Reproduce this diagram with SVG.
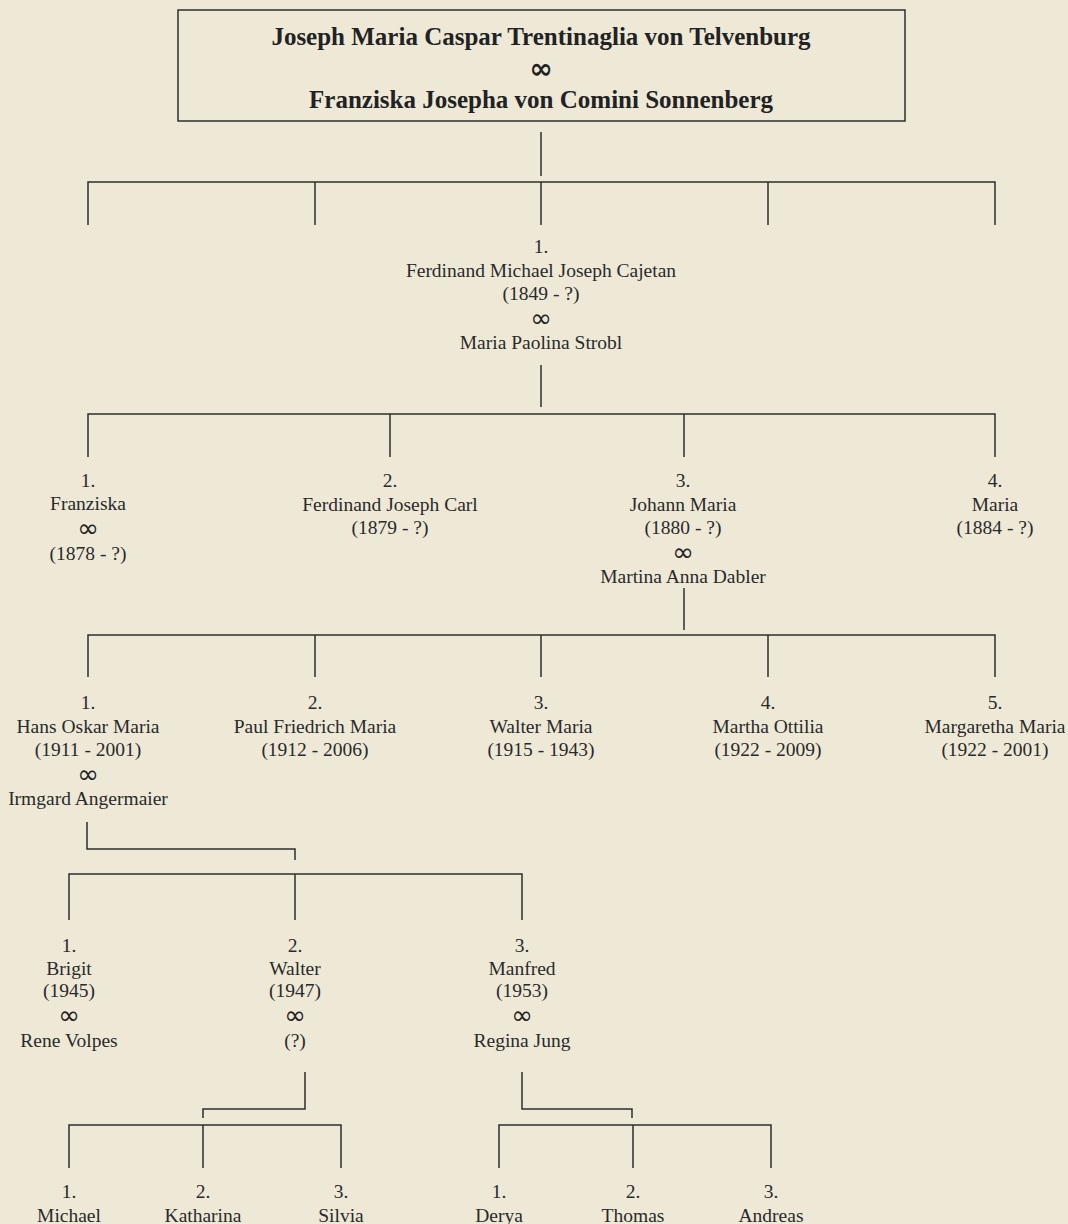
<svg xmlns="http://www.w3.org/2000/svg" width="1068" height="1224" viewBox="0 0 1068 1224">
<style>
  .t { font-family: "Liberation Serif", "Times New Roman", serif; font-size: 19.5px; fill: #2a2a2a; text-anchor: middle; }
  .b { font-family: "Liberation Serif", "Times New Roman", serif; font-size: 25px; font-weight: bold; fill: #222; text-anchor: middle; }
  .inf { font-family: "DejaVu Sans", sans-serif; font-size: 26px; fill: #222; text-anchor: middle; }
  .infb { font-family: "DejaVu Sans", sans-serif; font-size: 28px; font-weight: bold; fill: #222; text-anchor: middle; }
  .ln { fill: none; stroke: #2e2e2e; stroke-width: 1.5; }
</style>
<rect x="0" y="0" width="1068" height="1224" fill="#EEE9D7"/>

<g id="connectors" class="ln">
  <path d="M541 132V176"/>
  <path d="M88 225V182H995V225M315 182V225M541 182V225M768 182V225"/>
  <path d="M541 365V407"/>
  <path d="M88 457V414H995V457M390 414V457M684 414V457"/>
  <path d="M684 588V630"/>
  <path d="M88 677V635H995V677M315 635V677M541 635V677M768 635V677"/>
  <path d="M87 822V849H295V860"/>
  <path d="M69 920V874H522V920M295 874V920"/>
  <path d="M305 1072V1109H203V1118"/>
  <path d="M69 1168V1125H341V1168M203 1125V1168"/>
  <path d="M522 1072V1109H632V1118"/>
  <path d="M499 1168V1125H771V1168M633 1125V1168"/>
</g>

<g id="root">
  <rect x="178" y="10" width="727" height="111" fill="none" stroke="#2e2e2e" stroke-width="1.5"/>
  <text class="b" x="541" y="45">Joseph Maria Caspar Trentinaglia von Telvenburg</text>
  <text class="infb" x="541" y="78">∞</text>
  <text class="b" x="541" y="108">Franziska Josepha von Comini Sonnenberg</text>
</g>

<g id="n-ferdinand">
  <text class="t" x="541" y="253">1.</text>
  <text class="t" x="541" y="277">Ferdinand Michael Joseph Cajetan</text>
  <text class="t" x="541" y="300">(1849 - ?)</text>
  <text class="inf" x="541" y="327">∞</text>
  <text class="t" x="541" y="349">Maria Paolina Strobl</text>
</g>

<g id="n-franziska">
  <text class="t" x="88" y="487">1.</text>
  <text class="t" x="88" y="510">Franziska</text>
  <text class="inf" x="88" y="537">∞</text>
  <text class="t" x="88" y="560">(1878 - ?)</text>
</g>
<g id="n-ferdinand-joseph-carl">
  <text class="t" x="390" y="487">2.</text>
  <text class="t" x="390" y="511">Ferdinand Joseph Carl</text>
  <text class="t" x="390" y="534">(1879 - ?)</text>
</g>
<g id="n-johann">
  <text class="t" x="683" y="487">3.</text>
  <text class="t" x="683" y="511">Johann Maria</text>
  <text class="t" x="683" y="534">(1880 - ?)</text>
  <text class="inf" x="683" y="561">∞</text>
  <text class="t" x="683" y="583">Martina Anna Dabler</text>
</g>
<g id="n-maria">
  <text class="t" x="995" y="487">4.</text>
  <text class="t" x="995" y="511">Maria</text>
  <text class="t" x="995" y="534">(1884 - ?)</text>
</g>

<g id="n-hans">
  <text class="t" x="88" y="709">1.</text>
  <text class="t" x="88" y="733">Hans Oskar Maria</text>
  <text class="t" x="88" y="756">(1911 - 2001)</text>
  <text class="inf" x="88" y="783">∞</text>
  <text class="t" x="88" y="805">Irmgard Angermaier</text>
</g>
<g id="n-paul">
  <text class="t" x="315" y="709">2.</text>
  <text class="t" x="315" y="733">Paul Friedrich Maria</text>
  <text class="t" x="315" y="756">(1912 - 2006)</text>
</g>
<g id="n-walter-maria">
  <text class="t" x="541" y="709">3.</text>
  <text class="t" x="541" y="733">Walter Maria</text>
  <text class="t" x="541" y="756">(1915 - 1943)</text>
</g>
<g id="n-martha">
  <text class="t" x="768" y="709">4.</text>
  <text class="t" x="768" y="733">Martha Ottilia</text>
  <text class="t" x="768" y="756">(1922 - 2009)</text>
</g>
<g id="n-margaretha">
  <text class="t" x="995" y="709">5.</text>
  <text class="t" x="995" y="733">Margaretha Maria</text>
  <text class="t" x="995" y="756">(1922 - 2001)</text>
</g>

<g id="n-brigit">
  <text class="t" x="69" y="952">1.</text>
  <text class="t" x="69" y="975">Brigit</text>
  <text class="t" x="69" y="997">(1945)</text>
  <text class="inf" x="69" y="1024">∞</text>
  <text class="t" x="69" y="1047">Rene Volpes</text>
</g>
<g id="n-walter">
  <text class="t" x="295" y="952">2.</text>
  <text class="t" x="295" y="975">Walter</text>
  <text class="t" x="295" y="997">(1947)</text>
  <text class="inf" x="295" y="1024">∞</text>
  <text class="t" x="295" y="1047">(?)</text>
</g>
<g id="n-manfred">
  <text class="t" x="522" y="952">3.</text>
  <text class="t" x="522" y="975">Manfred</text>
  <text class="t" x="522" y="997">(1953)</text>
  <text class="inf" x="522" y="1024">∞</text>
  <text class="t" x="522" y="1047">Regina Jung</text>
</g>

<g id="n-michael">
  <text class="t" x="69" y="1198">1.</text>
  <text class="t" x="69" y="1222">Michael</text>
</g>
<g id="n-katharina">
  <text class="t" x="203" y="1198">2.</text>
  <text class="t" x="203" y="1222">Katharina</text>
</g>
<g id="n-silvia">
  <text class="t" x="341" y="1198">3.</text>
  <text class="t" x="341" y="1222">Silvia</text>
</g>
<g id="n-derya">
  <text class="t" x="499" y="1198">1.</text>
  <text class="t" x="499" y="1222">Derya</text>
</g>
<g id="n-thomas">
  <text class="t" x="633" y="1198">2.</text>
  <text class="t" x="633" y="1222">Thomas</text>
</g>
<g id="n-andreas">
  <text class="t" x="771" y="1198">3.</text>
  <text class="t" x="771" y="1222">Andreas</text>
</g>
</svg>
